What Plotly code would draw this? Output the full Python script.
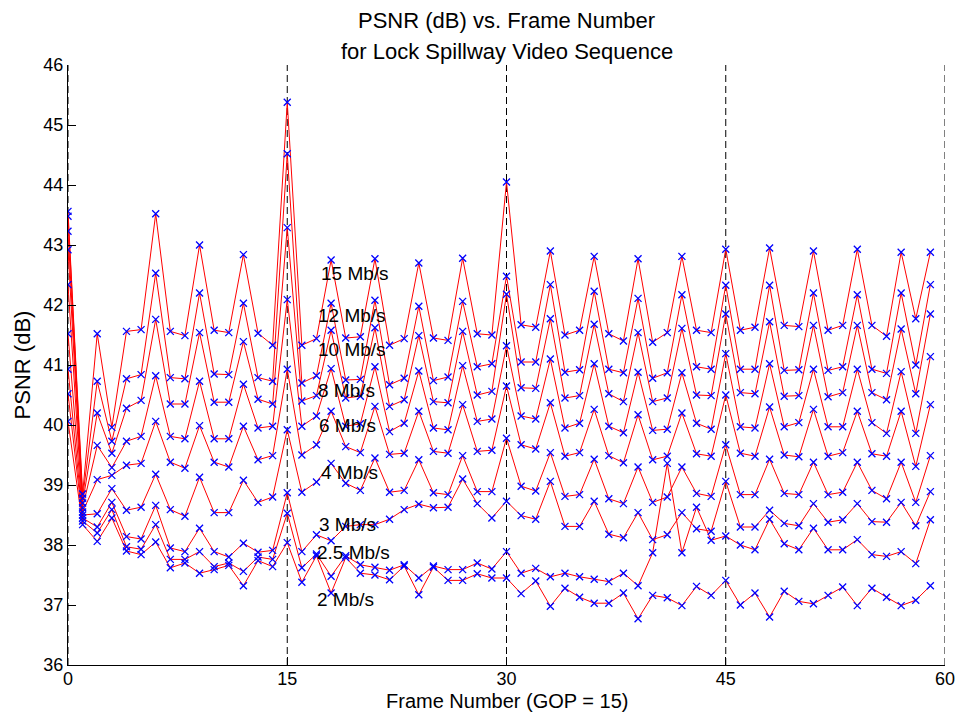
import plotly.graph_objects as go

# Frame index (display order), GOP = 15
frames = list(range(60))

rate_labels = ["15 Mb/s", "12 Mb/s", "10 Mb/s", "8 Mb/s", "6 Mb/s",
               "4 Mb/s", "3 Mb/s", "2.5 Mb/s", "2 Mb/s"]

# PSNR (dB) per frame for each bit rate
psnr_15 = [43.56, 38.85, 41.52, 39.96, 41.56, 41.59, 43.52, 41.56, 41.49, 43.00,
           41.58, 41.54, 42.84, 41.53, 41.33, 45.38, 41.33, 41.44, 42.75, 41.45,
           41.47, 42.77, 41.33, 41.44, 42.70, 41.45, 41.41, 42.78, 41.52, 41.50,
           44.05, 41.67, 41.63, 42.90, 41.50, 41.58, 42.81, 41.52, 41.40, 42.77,
           41.38, 41.54, 42.81, 41.58, 41.54, 42.93, 41.58, 41.63, 42.95, 41.66,
           41.64, 42.90, 41.58, 41.66, 42.93, 41.66, 41.48, 42.88, 41.77, 42.88]
psnr_12 = [43.48, 38.78, 40.73, 39.73, 40.77, 40.84, 42.53, 40.79, 40.77, 42.20,
           40.85, 40.84, 42.03, 40.79, 40.73, 44.52, 40.70, 40.82, 42.03, 40.75,
           40.76, 42.08, 40.67, 40.78, 41.98, 40.74, 40.80, 42.06, 40.97, 41.02,
           42.48, 41.05, 41.05, 42.34, 40.88, 40.92, 42.23, 40.93, 40.87, 42.11,
           40.78, 40.87, 42.17, 40.97, 40.93, 42.33, 40.93, 40.93, 42.33, 40.91,
           40.92, 42.20, 40.91, 40.97, 42.17, 40.93, 40.86, 42.20, 41.00, 42.34]
psnr_10 = [43.23, 38.70, 40.20, 39.53, 40.28, 40.41, 41.76, 40.35, 40.35, 41.54,
           40.38, 40.38, 41.39, 40.43, 40.35, 43.29, 40.40, 40.49, 41.58, 40.45,
           40.48, 41.62, 40.31, 40.42, 41.49, 40.39, 40.37, 41.56, 40.50, 40.56,
           42.18, 40.62, 40.61, 41.77, 40.45, 40.49, 41.68, 40.52, 40.39, 41.54,
           40.39, 40.45, 41.61, 40.50, 40.49, 41.85, 40.54, 40.52, 41.72, 40.48,
           40.49, 41.66, 40.47, 40.54, 41.66, 40.54, 40.42, 41.60, 40.52, 41.85]
psnr_8 = [42.92, 38.62, 39.66, 39.29, 39.73, 39.81, 40.82, 39.81, 39.77, 40.73,
          39.77, 39.77, 40.68, 39.95, 39.98, 42.09, 39.98, 40.15, 40.94, 39.98,
          40.02, 40.97, 39.89, 40.03, 40.90, 39.95, 39.92, 40.99, 40.06, 40.10,
          41.32, 40.15, 40.10, 41.10, 39.95, 40.03, 41.02, 39.98, 39.87, 40.88,
          39.91, 39.93, 40.87, 40.03, 39.93, 41.19, 39.97, 39.95, 41.02, 39.97,
          40.04, 40.93, 39.97, 39.97, 40.93, 40.04, 39.86, 40.89, 39.86, 41.14]
psnr_6 = [42.34, 38.55, 39.09, 39.16, 39.33, 39.36, 40.06, 39.38, 39.28, 39.99,
          39.38, 39.30, 39.98, 39.42, 39.49, 40.93, 39.50, 39.67, 40.23, 39.64,
          39.54, 40.31, 39.51, 39.53, 40.23, 39.56, 39.53, 40.34, 39.56, 39.58,
          40.65, 39.67, 39.60, 40.37, 39.48, 39.54, 40.26, 39.49, 39.37, 40.17,
          39.42, 39.48, 40.20, 39.52, 39.48, 40.50, 39.53, 39.48, 40.30, 39.50,
          39.47, 40.26, 39.48, 39.54, 40.23, 39.52, 39.48, 40.23, 39.31, 40.34]
psnr_4 = [41.52, 38.50, 38.52, 38.94, 38.58, 38.63, 39.18, 38.59, 38.48, 39.13,
          38.54, 38.54, 39.08, 38.71, 38.80, 39.92, 38.88, 39.05, 39.36, 39.03,
          38.91, 39.45, 38.88, 38.91, 39.42, 38.87, 38.84, 39.49, 38.89, 38.89,
          39.78, 38.98, 38.90, 39.54, 38.81, 38.84, 39.43, 38.77, 38.69, 39.30,
          38.71, 38.80, 39.30, 38.86, 38.81, 39.67, 38.84, 38.84, 39.43, 38.86,
          38.84, 39.38, 38.84, 38.88, 39.38, 38.91, 38.77, 39.38, 38.71, 39.49]
psnr_3 = [40.93, 38.45, 38.30, 38.71, 38.14, 38.10, 38.66, 37.95, 37.89, 38.28,
          37.89, 37.80, 38.03, 37.88, 37.91, 38.87, 37.89, 38.17, 38.07, 38.31,
          38.34, 38.34, 38.43, 38.59, 38.68, 38.62, 38.63, 39.10, 38.69, 38.45,
          38.73, 38.49, 38.43, 39.06, 38.31, 38.31, 38.73, 38.18, 38.12, 38.54,
          38.09, 38.17, 38.54, 38.27, 38.23, 39.06, 38.30, 38.30, 38.58, 38.36,
          38.32, 38.69, 38.38, 38.42, 38.69, 38.39, 38.38, 38.71, 38.32, 38.89]
psnr_2_5 = [40.52, 38.40, 38.20, 38.59, 37.97, 37.93, 38.34, 37.76, 37.76, 37.89,
            37.64, 37.70, 37.56, 37.80, 37.76, 38.53, 37.62, 37.85, 37.48, 37.82,
            37.67, 37.63, 37.58, 37.67, 37.45, 37.65, 37.59, 37.59, 37.70, 37.60,
            37.89, 37.53, 37.61, 37.47, 37.53, 37.47, 37.43, 37.39, 37.53, 37.32,
            37.87, 39.36, 37.87, 38.63, 38.08, 38.15, 38.00, 37.92, 38.43, 38.02,
            37.92, 38.28, 37.92, 37.92, 38.09, 37.84, 37.81, 37.89, 37.69, 38.42]
psnr_2 = [40.06, 38.34, 38.06, 38.45, 37.90, 37.84, 38.05, 37.62, 37.70, 37.53,
          37.59, 37.66, 37.32, 37.74, 37.64, 38.04, 37.38, 37.82, 37.20, 37.79,
          37.53, 37.50, 37.42, 37.65, 37.17, 37.63, 37.41, 37.41, 37.52, 37.45,
          37.45, 37.19, 37.40, 36.98, 37.28, 37.13, 37.03, 37.03, 37.20, 36.77,
          37.16, 37.12, 36.99, 37.31, 37.16, 37.41, 37.00, 37.20, 36.80, 37.23,
          37.06, 37.02, 37.16, 37.30, 36.99, 37.28, 37.13, 36.99, 37.08, 37.32]

series = [psnr_15, psnr_12, psnr_10, psnr_8, psnr_6,
          psnr_4, psnr_3, psnr_2_5, psnr_2]

# GOP boundaries
gop_frames = [0, 15, 30, 45, 60]

# where each rate label sits (frame, dB)
label_x = [17.15, 17.0, 17.0, 17.0, 17.05, 17.2, 17.05, 16.9, 16.9]
label_y = [42.53, 41.82, 41.26, 40.57, 39.99, 39.21, 38.35, 37.88, 37.09]

FONT = "Liberation Sans, Arial, Helvetica, sans-serif"

fig = go.Figure()

# red connecting lines first, blue frame markers on top
for vals in series:
    fig.add_trace(go.Scatter(
        x=frames, y=vals, mode="lines",
        line=dict(color="#ff0000", width=1),
        showlegend=False, hoverinfo="skip"))
for vals in series:
    fig.add_trace(go.Scatter(
        x=frames, y=vals, mode="markers",
        marker=dict(symbol="x-thin", size=7, color="#0000ff",
                    line=dict(color="#0000ff", width=1.3)),
        showlegend=False, hoverinfo="skip"))

for g in gop_frames:
    fig.add_shape(type="line", xref="x", yref="y", x0=g, x1=g, y0=36, y1=46,
                  line=dict(color="black", width=1, dash="7px,4px"),
                  layer="below")

for txt, lx, ly in zip(rate_labels, label_x, label_y):
    fig.add_annotation(x=lx, y=ly, xref="x", yref="y", text=txt,
                       showarrow=False, xanchor="left", yanchor="middle",
                       font=dict(family=FONT, size=19, color="black"))

# title lines and axis titles
fig.add_annotation(x=0.5, y=1.075, xref="paper", yref="paper",
                   text="PSNR (dB) vs. Frame Number", showarrow=False,
                   xanchor="center", yanchor="middle",
                   font=dict(family=FONT, size=22, color="black"))
fig.add_annotation(x=0.5, y=1.022, xref="paper", yref="paper",
                   text="for Lock Spillway Video Sequence", showarrow=False,
                   xanchor="center", yanchor="middle",
                   font=dict(family=FONT, size=22, color="black"))
fig.add_annotation(x=0.5, y=-0.0817, xref="paper", yref="paper",
                   text="Frame Number (GOP = 15)", showarrow=False,
                   xanchor="center", yanchor="bottom",
                   font=dict(family=FONT, size=20, color="black"))
fig.add_annotation(x=-0.052, y=0.5, xref="paper", yref="paper",
                   text="PSNR (dB)", showarrow=False, textangle=-90,
                   xanchor="center", yanchor="middle",
                   font=dict(family=FONT, size=22, color="black"))

fig.update_layout(
    width=966, height=715,
    margin=dict(l=68, r=11, t=65, b=50),
    paper_bgcolor="white", plot_bgcolor="white",
    font=dict(family=FONT, size=18, color="black"),
    xaxis=dict(range=[0, 60], tickvals=gop_frames, ticks="inside",
               ticklen=8, tickcolor="black", showline=True,
               linecolor="black", linewidth=1, showgrid=False,
               zeroline=False, mirror=False, ticklabelstandoff=-3),
    yaxis=dict(range=[36, 46], dtick=1, ticks="inside", ticklen=8,
               tickcolor="black", showline=True, linecolor="black",
               linewidth=1, showgrid=False, zeroline=False, mirror=False),
)

fig.write_html("out.html")
